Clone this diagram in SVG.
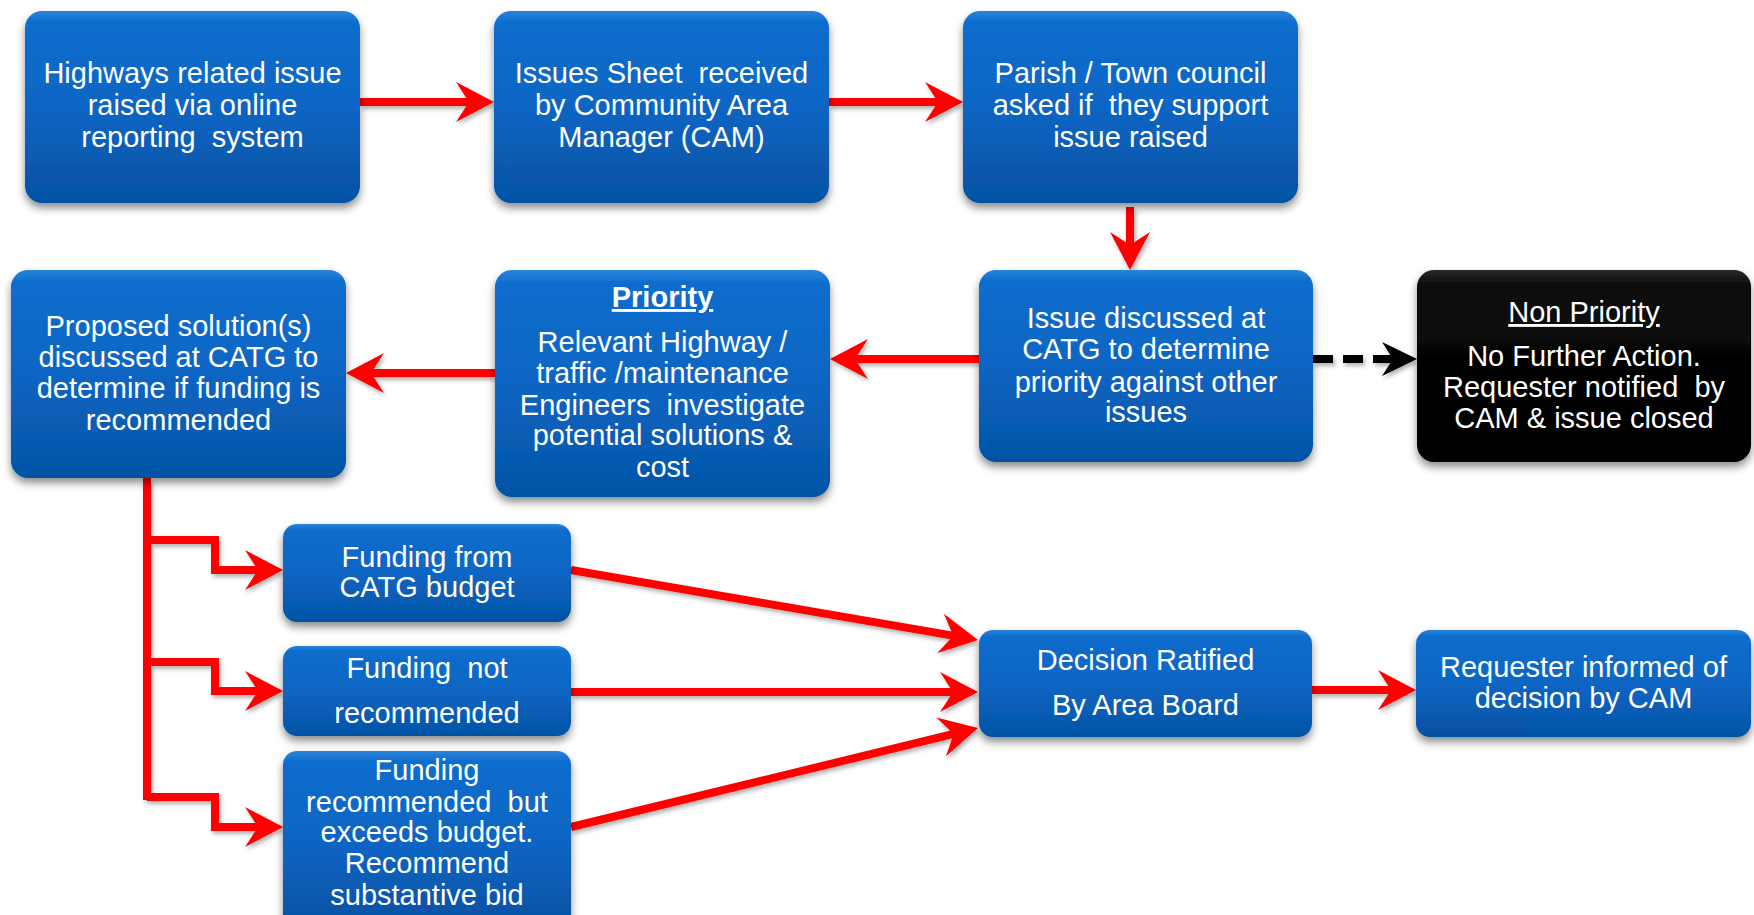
<svg xmlns="http://www.w3.org/2000/svg" width="1754" height="915" viewBox="0 0 1754 915">
<defs>
<style>
.box{fill:url(#blue);filter:url(#shadow)}
.boxb{fill:url(#black);filter:url(#shadow)}
.hl{fill:url(#gloss)}
.t{font-family:"Liberation Sans",Arial,sans-serif;font-size:29px;fill:#fff;text-anchor:middle;white-space:pre}
.u{text-decoration:underline}
.b{font-weight:bold}
.red{fill:none;stroke:#ff0000;stroke-width:8;stroke-linejoin:miter}
.redh{marker-end:url(#ah)}
.dash{fill:none;stroke:#000;stroke-width:8;stroke-dasharray:20 10;marker-end:url(#ahk)}
</style>
<linearGradient id="blue" x1="0" y1="0" x2="0" y2="1">
<stop offset="0" stop-color="#2a84dc"/>
<stop offset="0.06" stop-color="#0c6dcd"/>
<stop offset="0.5" stop-color="#0865c3"/>
<stop offset="1" stop-color="#0652a3"/>
</linearGradient>
<linearGradient id="black" x1="0" y1="0" x2="0" y2="1">
<stop offset="0" stop-color="#2a2a2a"/>
<stop offset="0.08" stop-color="#0a0a0a"/>
<stop offset="1" stop-color="#000"/>
</linearGradient>
<linearGradient id="gloss" x1="0" y1="0" x2="0" y2="1">
<stop offset="0" stop-color="#fff" stop-opacity="0.25"/>
<stop offset="1" stop-color="#fff" stop-opacity="0"/>
</linearGradient>
<filter id="shadow" x="-10%" y="-10%" width="120%" height="130%">
<feDropShadow dx="0" dy="5" stdDeviation="4" flood-color="#000" flood-opacity="0.45"/>
</filter>
<filter id="ashadow" x="-10%" y="-20%" width="120%" height="140%">
<feDropShadow dx="2" dy="3" stdDeviation="2" flood-color="#000" flood-opacity="0.3"/>
</filter>
<marker id="ah" markerUnits="userSpaceOnUse" markerWidth="44" markerHeight="44" viewBox="-40 -22 44 44" refX="-24" refY="0" orient="auto">
<path d="M0,0 L-38,-20 L-25,0 L-38,20 Z" fill="#ff0000"/>
</marker>
<marker id="ahk" markerUnits="userSpaceOnUse" markerWidth="44" markerHeight="44" viewBox="-40 -22 44 44" refX="-22" refY="0" orient="auto">
<path d="M0,0 L-35,-17 L-24,0 L-35,17 Z" fill="#000"/>
</marker>
</defs>

<g id="connectors" filter="url(#ashadow)">
<path class="red redh" d="M360,102 H470"/>
<path class="red redh" d="M829,102 H939"/>
<path class="red redh" d="M1130,207 V246"/>
<path class="red redh" d="M979,359 H854"/>
<path class="red redh" d="M495,373 H370"/>
<path class="dash" d="M1313,359 H1395"/>
<path class="red" d="M147,478 V800"/>
<path class="red redh" d="M147,540 H215 V570 H259"/>
<path class="red redh" d="M147,662 H215 V691 H259"/>
<path class="red redh" d="M147,797 H215 V827 H259"/>
<path class="red redh" d="M571,570 L954.3,635.9"/>
<path class="red redh" d="M571,692 H954"/>
<path class="red redh" d="M571,827 L954.7,733.7"/>
<path class="red redh" d="M1312,690 H1392"/>
</g>

<g id="n1">
<rect class="box" x="25" y="11" width="335" height="192" rx="17"/>
<text class="t"><tspan x="192.5" y="83">Highways related issue</tspan><tspan x="192.5" y="115">raised via online</tspan><tspan x="192.5" y="147">reporting  system</tspan></text>
</g>
<g id="n2">
<rect class="box" x="494" y="11" width="335" height="192" rx="17"/>
<text class="t"><tspan x="661.5" y="83">Issues Sheet  received</tspan><tspan x="661.5" y="115">by Community Area</tspan><tspan x="661.5" y="147">Manager (CAM)</tspan></text>
</g>
<g id="n3">
<rect class="box" x="963" y="11" width="335" height="192" rx="17"/>
<text class="t"><tspan x="1130.5" y="83">Parish / Town council</tspan><tspan x="1130.5" y="115">asked if  they support</tspan><tspan x="1130.5" y="147">issue raised</tspan></text>
</g>
<g id="n4">
<rect class="box" x="11" y="270" width="335" height="208" rx="17"/>
<text class="t"><tspan x="178.5" y="336">Proposed solution(s)</tspan><tspan x="178.5" y="367">discussed at CATG to</tspan><tspan x="178.5" y="398">determine if funding is</tspan><tspan x="178.5" y="430">recommended</tspan></text>
</g>
<g id="n5">
<rect class="box" x="495" y="270" width="335" height="227" rx="17"/>
<text class="t b u" x="662.5" y="307">Priority</text>
<text class="t"><tspan x="662.5" y="352">Relevant Highway /</tspan><tspan x="662.5" y="383">traffic /maintenance</tspan><tspan x="662.5" y="415">Engineers  investigate</tspan><tspan x="662.5" y="445">potential solutions &amp;</tspan><tspan x="662.5" y="477">cost</tspan></text>
</g>
<g id="n6">
<rect class="box" x="979" y="270" width="334" height="192" rx="17"/>
<text class="t"><tspan x="1146" y="328">Issue discussed at</tspan><tspan x="1146" y="359">CATG to determine</tspan><tspan x="1146" y="392">priority against other</tspan><tspan x="1146" y="422">issues</tspan></text>
</g>
<g id="n7">
<rect class="boxb" x="1417" y="270" width="334" height="192" rx="17"/>
<text class="t u" x="1584" y="322">Non Priority</text>
<text class="t"><tspan x="1584" y="366">No Further Action.</tspan><tspan x="1584" y="397">Requester notified  by</tspan><tspan x="1584" y="428">CAM &amp; issue closed</tspan></text>
</g>
<g id="f1">
<rect class="box" x="283" y="524" width="288" height="98" rx="14"/>
<text class="t"><tspan x="427" y="567">Funding from</tspan><tspan x="427" y="597">CATG budget</tspan></text>
</g>
<g id="f2">
<rect class="box" x="283" y="646" width="288" height="90" rx="14"/>
<text class="t"><tspan x="427" y="678">Funding  not</tspan><tspan x="427" y="723">recommended</tspan></text>
</g>
<g id="f3">
<rect class="box" x="283" y="751" width="288" height="180" rx="14"/>
<text class="t"><tspan x="427" y="780">Funding</tspan><tspan x="427" y="812">recommended  but</tspan><tspan x="427" y="842">exceeds budget.</tspan><tspan x="427" y="873">Recommend</tspan><tspan x="427" y="905">substantive bid</tspan></text>
</g>
<g id="d">
<rect class="box" x="979" y="630" width="333" height="107" rx="14"/>
<text class="t"><tspan x="1145.5" y="670">Decision Ratified</tspan><tspan x="1145.5" y="715">By Area Board</tspan></text>
</g>
<g id="r">
<rect class="box" x="1416" y="630" width="335" height="107" rx="14"/>
<text class="t"><tspan x="1583.5" y="677">Requester informed of</tspan><tspan x="1583.5" y="708">decision by CAM</tspan></text>
</g>
</svg>
